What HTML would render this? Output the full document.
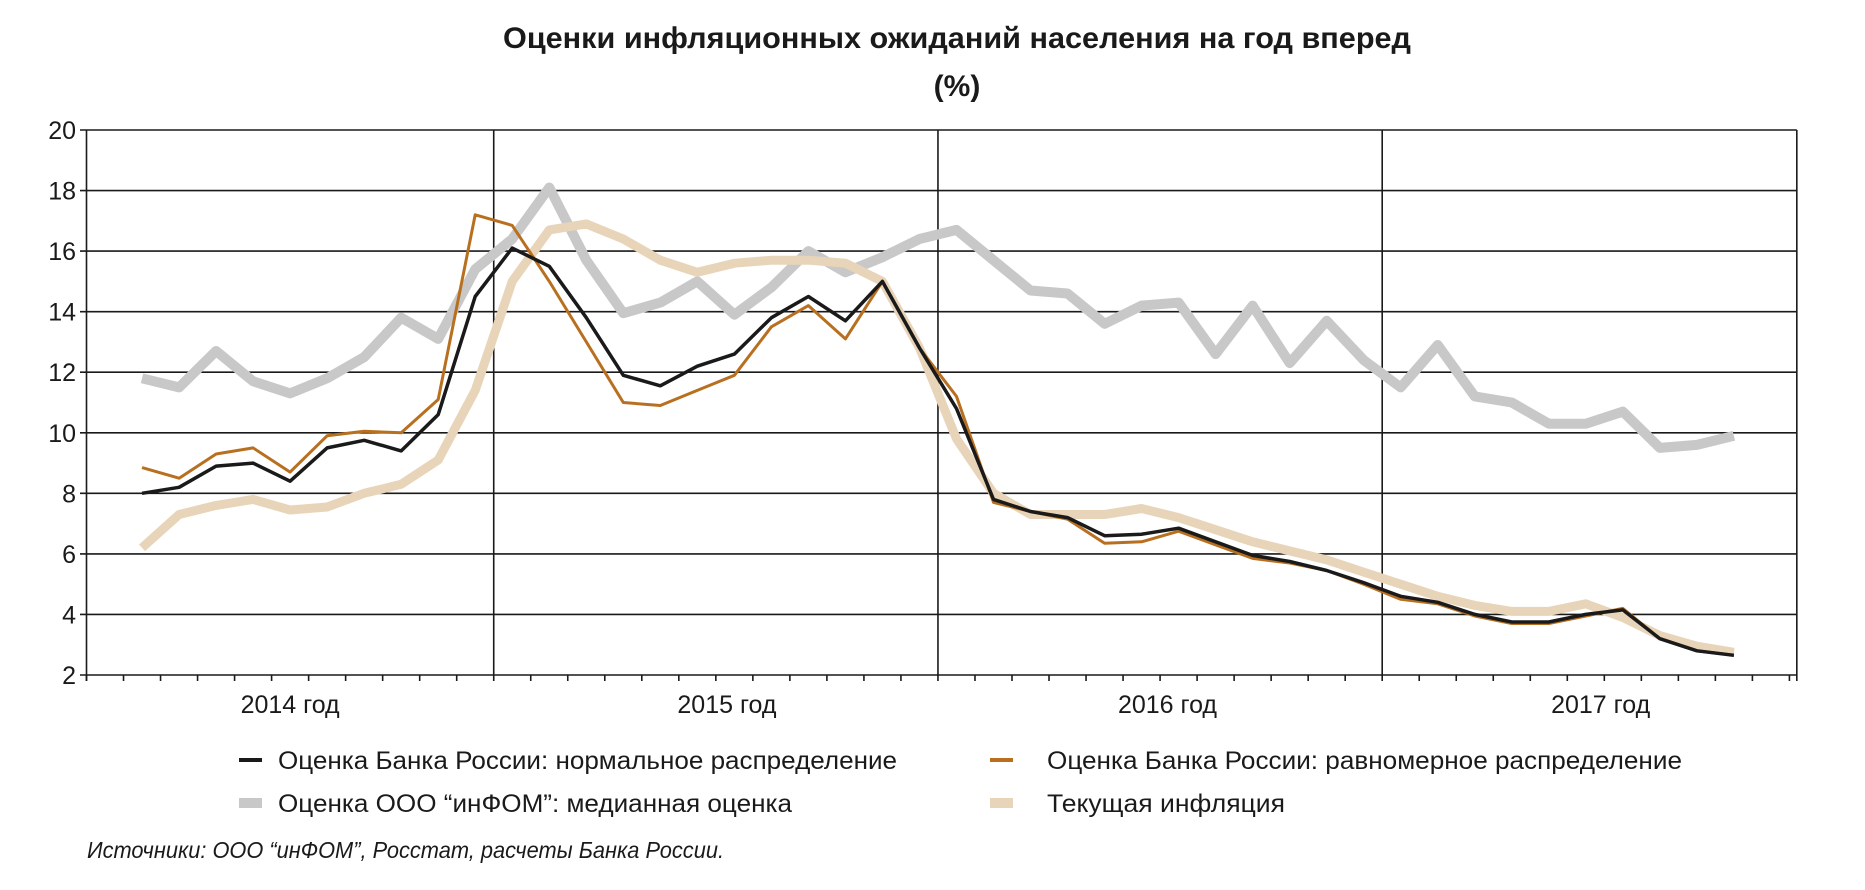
<!DOCTYPE html>
<html><head><meta charset="utf-8"><style>
html,body{margin:0;padding:0;background:#fff;}
svg{display:block;}
text{font-family:"Liberation Sans Narrow","Liberation Sans",sans-serif;fill:#1a1a1a;}
</style></head><body>
<svg id="s" width="1865" height="890" viewBox="0 0 1865 890" xmlns="http://www.w3.org/2000/svg">
<text x="957" y="48" font-size="30" font-weight="bold" text-anchor="middle" textLength="908" lengthAdjust="spacingAndGlyphs">Оценки инфляционных ожиданий населения на год вперед</text>
<text x="957" y="96" font-size="30" font-weight="bold" text-anchor="middle">(%)</text>
<g id="grid" stroke="#1a1a1a" stroke-width="1.6" fill="none"></g>
<g id="lab" font-size="25"></g>
<g id="ser" fill="none" stroke-linejoin="round" stroke-linecap="butt"></g>
<g font-size="25">
<line x1="239" y1="760" x2="262" y2="760" stroke="#1a1a1a" stroke-width="4"/>
<text x="278" y="769" textLength="619" lengthAdjust="spacingAndGlyphs">Оценка Банка России: нормальное распределение</text>
<line x1="990" y1="760" x2="1013" y2="760" stroke="#b87020" stroke-width="4"/>
<text x="1047" y="769" textLength="635" lengthAdjust="spacingAndGlyphs">Оценка Банка России: равномерное распределение</text>
<line x1="239" y1="803" x2="262" y2="803" stroke="#c8c8c8" stroke-width="10"/>
<text x="278" y="812" textLength="514" lengthAdjust="spacingAndGlyphs">Оценка ООО “инФОМ”: медианная оценка</text>
<line x1="990" y1="803" x2="1013" y2="803" stroke="#e8d5b9" stroke-width="10"/>
<text x="1047" y="812" textLength="238" lengthAdjust="spacingAndGlyphs">Текущая инфляция</text>
<text x="87" y="858" font-size="23" font-style="italic" textLength="637" lengthAdjust="spacingAndGlyphs">Источники: ООО “инФОМ”, Росстат, расчеты Банка России.</text>
</g>
</svg>
<script>
var NS="http://www.w3.org/2000/svg";
var L=86.5,dx=37.02,R=L+46.2*dx,T=130,B=675;
function Y(v){return T+(20-v)*(B-T)/18;}
function X(i){return L+dx*(i+1.5);}
var g=document.getElementById('grid'),lab=document.getElementById('lab'),ser=document.getElementById('ser');
function ln(p,x1,y1,x2,y2){var l=document.createElementNS(NS,'line');l.setAttribute('x1',x1);l.setAttribute('y1',y1);l.setAttribute('x2',x2);l.setAttribute('y2',y2);p.appendChild(l);}
function tx(s,x,y,a){var t=document.createElementNS(NS,'text');t.setAttribute('x',x);t.setAttribute('y',y);t.setAttribute('text-anchor',a);t.textContent=s;lab.appendChild(t);}
for(var v=2;v<=20;v+=2){var y=Y(v);ln(g,80,y,R,y);tx(String(v),76,y+9,'end');}
ln(g,L,T,L,B+6);ln(g,R,T,R,B+6);
[11,23,35].forEach(function(k){ln(g,L+dx*k,T,L+dx*k,B);});
for(var k=0;k<=46;k++){ln(g,L+dx*k,B,L+dx*k,B+6);}
[[L+5.5*dx,'2014 год'],[L+17.3*dx,'2015 год'],[L+29.2*dx,'2016 год'],[L+40.9*dx,'2017 год']].forEach(function(a){tx(a[1],a[0],713,'middle');});
var grey=[11.8,11.5,12.7,11.7,11.3,11.8,12.5,13.8,13.1,15.4,16.4,18.1,15.7,13.95,14.3,15.0,13.9,14.8,16.0,15.3,15.8,16.4,16.7,15.7,14.7,14.6,13.6,14.2,14.3,12.6,14.2,12.3,13.7,12.4,11.5,12.9,11.2,11.0,10.3,10.3,10.7,9.5,9.6,9.9];
var beige=[6.2,7.3,7.6,7.8,7.45,7.55,8.0,8.3,9.1,11.4,15.0,16.7,16.9,16.4,15.7,15.3,15.6,15.7,15.7,15.6,15.0,12.8,9.8,8.0,7.3,7.3,7.3,7.5,7.2,6.8,6.4,6.1,5.8,5.4,5.0,4.6,4.3,4.1,4.1,4.35,3.9,3.3,2.95,2.75];
var orange=[8.85,8.5,9.3,9.5,8.7,9.9,10.05,10.0,11.1,17.2,16.85,15.0,13.0,11.0,10.9,11.4,11.9,13.5,14.2,13.1,15.0,12.8,11.2,7.7,7.4,7.15,6.35,6.4,6.75,6.3,5.85,5.7,5.45,5.0,4.5,4.35,3.95,3.7,3.7,3.95,4.2,3.2,2.8,2.65];
var black=[8.0,8.2,8.9,9.0,8.4,9.5,9.75,9.4,10.6,14.5,16.1,15.5,13.8,11.9,11.55,12.2,12.6,13.8,14.5,13.7,15.0,12.8,10.8,7.8,7.4,7.2,6.6,6.65,6.85,6.4,5.95,5.75,5.45,5.05,4.6,4.4,4.0,3.75,3.75,4.0,4.15,3.2,2.8,2.65];
function pl(d,c,w){var p=document.createElementNS(NS,'polyline');p.setAttribute('points',d.map(function(v,i){return X(i).toFixed(1)+','+Y(v).toFixed(1);}).join(' '));p.setAttribute('stroke',c);p.setAttribute('stroke-width',w);ser.appendChild(p);}
pl(grey,'#c8c8c8',10);pl(beige,'#e8d5b9',9);pl(orange,'#b87020',3);pl(black,'#1a1a1a',3.5);
</script>
</body></html>
